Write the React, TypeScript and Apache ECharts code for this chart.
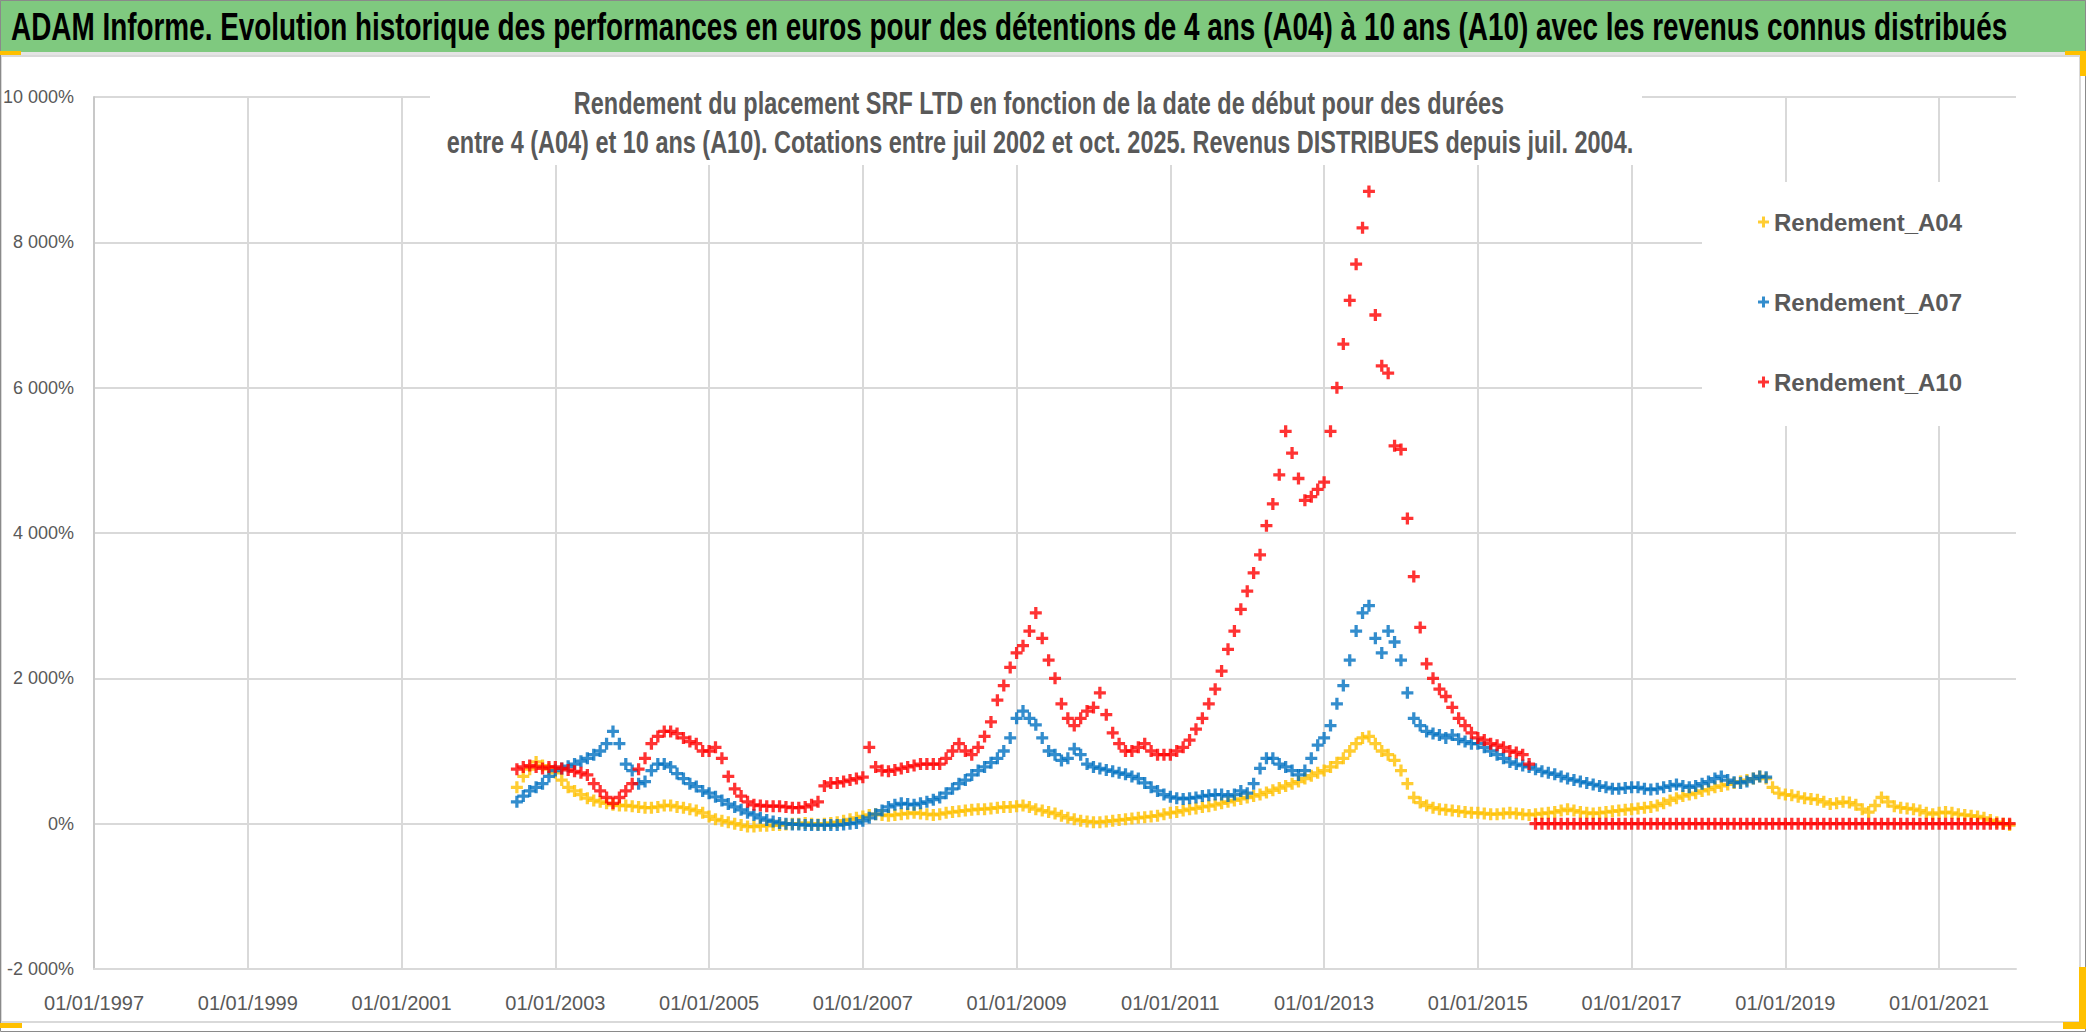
import React, { useEffect, useRef } from "react";
import * as echarts from "echarts";

// ---- data (monthly readings, first value = July 2002) ----
const START_YEAR = 2002;
const START_MONTH = 6; // July (0-based)

const seriesNames = ["Rendement_A04", "Rendement_A07", "Rendement_A10"];
const seriesColors = ["#FFC000", "#0070C0", "#FF0000"];

const rendementA04 = [
  500, 650, 750, 850, 800, 750,
  700, 600, 500, 450, 400, 350, 320, 300, 280, 260, 250, 250,
  240, 230, 220, 220, 230, 250, 250, 230, 220, 200, 180, 150,
  100, 60, 40, 20, 0, -20, -40, -40, -30, -30, -20, -20,
  -10, 0, 0, 10, 0, -10, 0, 10, 20, 40, 60, 80,
  100, 120, 130, 120, 110, 120, 130, 140, 150, 140, 130, 120,
  130, 150, 160, 170, 180, 190, 200, 200, 210, 220, 230, 230,
  240, 250, 230, 200, 180, 160, 140, 110, 80, 60, 40, 30,
  20, 20, 30, 40, 50, 60, 70, 80, 90, 100, 110, 130,
  150, 160, 180, 200, 210, 230, 240, 260, 280, 300, 320, 340,
  360, 380, 400, 430, 460, 490, 520, 550, 580, 620, 660, 700,
  730, 780, 840, 900, 1000, 1100, 1180, 1200, 1100, 1000, 950, 870,
  730, 550, 360, 290, 250, 220, 200, 190, 180, 170, 160, 150,
  150, 140, 130, 130, 140, 150, 140, 130, 120, 130, 140, 150,
  160, 180, 200, 180, 160, 150, 140, 150, 160, 170, 180, 190,
  200, 210, 220, 230, 250, 280, 320, 350, 380, 400, 420, 450,
  470, 500, 520, 540, 560, 580, 600, 620, 650, 620, 500, 420,
  400, 390, 370, 350, 340, 330, 300, 270, 280, 300, 290, 260,
  200, 160, 250, 360, 300, 240, 220, 210, 200, 180, 150, 130,
  150, 160, 150, 130, 120, 110, 100, 80, 50, 20, 0, -20,
];

const rendementA07 = [
  300, 380, 450, 500, 550, 650,
  730, 760, 790, 820, 860, 900, 950, 1000, 1100, 1270, 1100, 820,
  730, 550, 580, 730, 820, 820, 780, 690, 620, 550, 510, 450,
  420, 370, 320, 270, 230, 190, 150, 120, 80, 50, 30, 10,
  0, -10, -10, -20, -20, -20, -20, -20, -20, -10, 0, 10,
  40, 80, 130, 180, 230, 260, 280, 270, 260, 280, 300, 330,
  360, 420, 480, 550, 600, 670, 730, 780, 840, 900, 1000, 1180,
  1450, 1550, 1450, 1360, 1180, 1000, 950, 870, 900, 1030, 950, 820,
  780, 760, 740, 720, 700, 680, 650, 620, 560, 500, 450, 400,
  370, 350, 340, 350, 360, 380, 390, 400, 400, 380, 400, 450,
  420, 550, 760, 900, 900, 820, 780, 730, 670, 730, 900, 1080,
  1180, 1350, 1650, 1900, 2250, 2650, 2900, 3000, 2550, 2350, 2650, 2500,
  2250, 1800, 1450, 1350, 1270, 1240, 1220, 1180, 1220, 1160, 1130, 1100,
  1100, 1050, 1000, 950, 900, 850, 820, 800, 780, 750, 720, 700,
  680, 650, 620, 600, 580, 560, 540, 520, 500, 480, 480, 490,
  500, 500, 480, 470, 480, 500, 520, 540, 520, 500, 520, 550,
  580, 620, 650, 600, 570, 560, 580, 620, 650, 640,
];

const rendementA10 = [
  750, 780, 800, 780, 760, 780,
  780, 760, 740, 720, 700, 670, 550, 450, 360, 280, 360, 450,
  550, 750, 900, 1100, 1200, 1270, 1270, 1240, 1180, 1130, 1100, 1000,
  1000, 1050, 900, 650, 480, 380, 300, 260, 250, 240, 240, 240,
  230, 220, 220, 230, 260, 300, 520, 560, 560, 580, 600, 620,
  640, 1050, 780, 730, 720, 740, 760, 780, 800, 820, 820, 820,
  820, 900, 1000, 1100, 1000, 950, 1050, 1200, 1400, 1700, 1900, 2150,
  2350, 2450, 2650, 2900, 2550, 2250, 2000, 1650, 1450, 1350, 1450, 1550,
  1600, 1800, 1500, 1250, 1100, 1000, 1000, 1050, 1100, 1000, 950, 950,
  950, 1000, 1050, 1150, 1300, 1450, 1650, 1850, 2100, 2400, 2650, 2950,
  3200, 3450, 3700, 4100, 4400, 4800, 5400, 5100, 4750, 4450, 4500, 4600,
  4700, 5400, 6000, 6600, 7200, 7700, 8200, 8700, 7000, 6300, 6200, 5200,
  5150, 4200, 3400, 2700, 2200, 2000, 1850, 1750, 1600, 1450, 1350, 1250,
  1180, 1150, 1100, 1080, 1050, 1000, 980, 950, 820, 0, 0, 0,
  0, 0, 0, 0, 0, 0, 0, 0, 0, 0, 0, 0,
  0, 0, 0, 0, 0, 0, 0, 0, 0, 0, 0, 0,
  0, 0, 0, 0, 0, 0, 0, 0, 0, 0, 0, 0,
  0, 0, 0, 0, 0, 0, 0, 0, 0, 0, 0, 0,
  0, 0, 0, 0, 0, 0, 0, 0, 0, 0, 0, 0,
  0, 0, 0, 0, 0, 0, 0, 0, 0, 0, 0, 0,
];

const xAxisMin = 1997;
const xAxisMax = 2022;
const xAxisStep = 2;
const yAxisMin = -2000;
const yAxisMax = 10000;
const yAxisStep = 2000;

const mainTitle =
  "ADAM Informe. Evolution historique des performances en euros pour des détentions de 4 ans (A04) à 10 ans (A10) avec les revenus connus distribués";
const subTitle1 =
  "Rendement du placement SRF LTD en fonction de la date de début pour des durées";
const subTitle2 =
  "entre 4 (A04) et 10 ans (A10). Cotations entre juil 2002 et oct. 2025. Revenus DISTRIBUES depuis juil. 2004.";

// ---- helpers ----
const FONT = "'Liberation Sans', Arial, sans-serif";
const CROSS = "path://M4,0H7V4H11V7H7V11H4V7H0V4H4Z";

function toPoints(values: number[]) {
  return values.map((v, i) => [START_YEAR + (START_MONTH + i) / 12, v]);
}

function fmtPct(v: number) {
  const s = Math.abs(v)
    .toString()
    .replace(/\B(?=(\d{3})+(?!\d))/g, " ");
  return (v < 0 ? "-" : "") + s + "%";
}

function measure(text: string, font: string) {
  const ctx = document.createElement("canvas").getContext("2d");
  if (!ctx) return 1;
  ctx.font = font;
  return ctx.measureText(text).width || 1;
}

export default function App() {
  const ref = useRef<HTMLDivElement>(null);

  useEffect(() => {
    if (!ref.current) return;
    const chart = echarts.init(ref.current, undefined, { renderer: "svg" });

    const titleFont = `bold 38px "Liberation Sans"`;
    const subFont = `bold 31px "Liberation Sans"`;
    const titleScale = 1997 / measure(mainTitle, titleFont);
    const subScale = 1187 / measure(subTitle2, subFont);

    const allSeries = [rendementA04, rendementA07, rendementA10];

    chart.setOption({
      animation: false,
      backgroundColor: "#ffffff",
      grid: { left: 93, top: 97, width: 1923, height: 872, containLabel: false },
      xAxis: {
        type: "value",
        min: xAxisMin,
        max: xAxisMax,
        interval: xAxisStep,
        axisLine: { show: true, onZero: false, lineStyle: { color: "#d9d9d9", width: 2 } },
        axisTick: { show: false },
        splitLine: { show: true, showMaxLine: false, lineStyle: { color: "#d9d9d9", width: 2 } },
        axisLabel: {
          margin: 24,
          fontSize: 20,
          fontFamily: FONT,
          color: "#595959",
          showMaxLabel: false,
          formatter: (v: number) => (v >= xAxisMax ? "" : "01/01/" + v),
        },
      },
      yAxis: {
        type: "value",
        min: yAxisMin,
        max: yAxisMax,
        interval: yAxisStep,
        axisLine: { show: true, lineStyle: { color: "#c8c8c8", width: 2 } },
        axisTick: { show: false },
        splitLine: { show: true, lineStyle: { color: "#d9d9d9", width: 2 } },
        axisLabel: {
          margin: 20,
          fontSize: 18,
          fontFamily: FONT,
          color: "#595959",
          formatter: (v: number) => fmtPct(v),
        },
      },
      legend: {
        orient: "vertical",
        left: 1702,
        top: 182,
        backgroundColor: "#ffffff",
        padding: [22, 60, 26, 56],
        itemWidth: 11,
        itemHeight: 11,
        itemGap: 44,
        textStyle: {
          fontFamily: FONT,
          fontSize: 24,
          fontWeight: "bold",
          color: "#595959",
          lineHeight: 36,
        },
        data: seriesNames.map((n) => ({ name: n, icon: CROSS })),
      },
      series: allSeries.map((vals, i) => ({
        name: seriesNames[i],
        type: "scatter",
        symbol: CROSS,
        symbolSize: 12,
        itemStyle: { color: seriesColors[i] },
        data: toPoints(vals),
        z: 2 + i,
        silent: true,
      })),
      graphic: [
        { type: "rect", z: 1, shape: { x: 0, y: 0, width: 2086, height: 52 }, style: { fill: "#7fc97f" } },
        { type: "rect", z: 1, shape: { x: 0, y: 52, width: 2086, height: 4 }, style: { fill: "#e4e4e4" } },
        {
          type: "rect",
          z: 1,
          shape: { x: 1, y: 56, width: 2079, height: 966 },
          style: { fill: "none", stroke: "#d9d9d9", lineWidth: 2 },
        },
        {
          type: "rect",
          z: 1,
          shape: { x: 0.5, y: 0.5, width: 2085, height: 1031 },
          style: { fill: "none", stroke: "#8a8a8a", lineWidth: 1 },
        },
        // selection handles
        { type: "rect", z: 20, shape: { x: 0, y: 51, width: 21, height: 4 }, style: { fill: "#FFC000" } },
        { type: "rect", z: 20, shape: { x: 2065, y: 51, width: 21, height: 4 }, style: { fill: "#FFC000" } },
        { type: "rect", z: 20, shape: { x: 2080, y: 51, width: 6, height: 25 }, style: { fill: "#FFC000" } },
        { type: "rect", z: 20, shape: { x: 0, y: 1023, width: 22, height: 5 }, style: { fill: "#FFC000" } },
        { type: "rect", z: 20, shape: { x: 2063, y: 1022, width: 23, height: 7 }, style: { fill: "#FFC000" } },
        { type: "rect", z: 20, shape: { x: 2079, y: 967, width: 7, height: 62 }, style: { fill: "#FFC000" } },
        // main title
        {
          type: "text",
          z: 30,
          x: 11,
          y: 27,
          scaleX: titleScale,
          style: {
            text: mainTitle,
            font: titleFont,
            fill: "#000000",
            align: "left",
            verticalAlign: "middle",
            textAlign: "left",
            textVerticalAlign: "middle",
          },
        },
        // subtitle box
        { type: "rect", z: 10, shape: { x: 430, y: 68, width: 1212, height: 97 }, style: { fill: "#ffffff" } },
        {
          type: "text",
          z: 11,
          x: 1039,
          y: 103,
          scaleX: subScale,
          style: {
            text: subTitle1,
            font: subFont,
            fill: "#595959",
            align: "center",
            verticalAlign: "middle",
            textAlign: "center",
            textVerticalAlign: "middle",
          },
        },
        {
          type: "text",
          z: 11,
          x: 1040,
          y: 142,
          scaleX: subScale,
          style: {
            text: subTitle2,
            font: subFont,
            fill: "#595959",
            align: "center",
            verticalAlign: "middle",
            textAlign: "center",
            textVerticalAlign: "middle",
          },
        },
      ],
    });

    return () => chart.dispose();
  }, []);

  return (
    <div
      ref={ref}
      style={{ position: "absolute", left: 0, top: 0, width: 2086, height: 1032 }}
    />
  );
}
